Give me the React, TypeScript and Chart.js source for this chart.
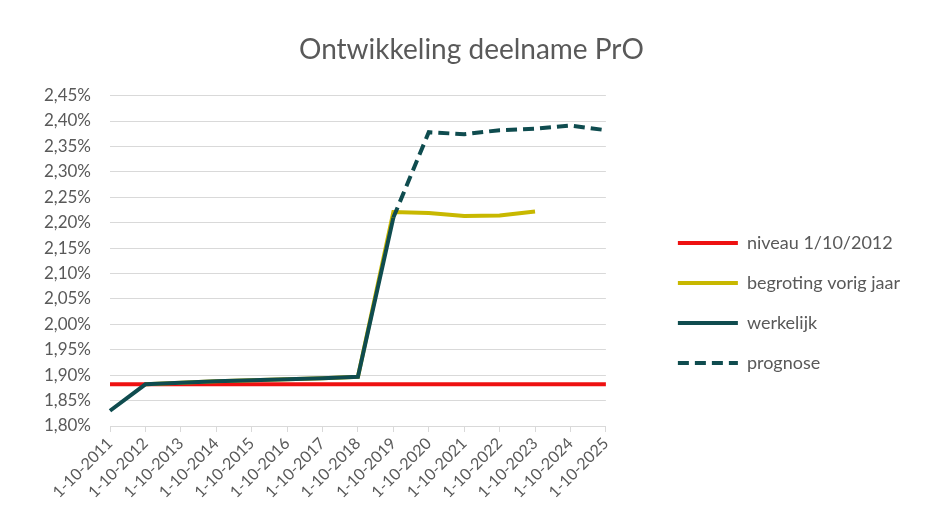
import React, { useEffect, useRef } from "react";
import { Chart, registerables } from "chart.js";

Chart.register(...registerables);

const categories = [
  "1-10-2011", "1-10-2012", "1-10-2013", "1-10-2014", "1-10-2015",
  "1-10-2016", "1-10-2017", "1-10-2018", "1-10-2019", "1-10-2020",
  "1-10-2021", "1-10-2022", "1-10-2023", "1-10-2024", "1-10-2025",
];

const niveau = [1.882, 1.882, 1.882, 1.882, 1.882, 1.882, 1.882, 1.882, 1.882, 1.882, 1.882, 1.882, 1.882, 1.882, 1.882];
const begroting = [null, 1.882, 1.885, 1.888, 1.890, 1.892, 1.894, 1.897, 2.221, 2.219, 2.213, 2.214, 2.222, null, null];
const werkelijk = [1.830, 1.882, 1.885, 1.888, 1.890, 1.892, 1.894, 1.897, 2.210, null, null, null, null, null, null];
const prognose = [null, null, null, null, null, null, null, null, 2.210, 2.378, 2.374, 2.382, 2.385, 2.391, 2.382];

const legendOrder = ["niveau 1/10/2012", "begroting vorig jaar", "werkelijk", "prognose"];

const FONT = "Lato, 'Noto Sans', sans-serif";
const TEXT = "#595959";

export default function App() {
  const ref = useRef<HTMLCanvasElement | null>(null);

  useEffect(() => {
    if (!ref.current) return;
    const baseGen = (Chart as any).defaults.plugins.legend.labels.generateLabels;
    const chart = new Chart(ref.current, {
      type: "line",
      data: {
        labels: categories,
        datasets: [
          { label: "werkelijk", data: werkelijk, borderColor: "#0f4c4f", backgroundColor: "#0f4c4f", borderWidth: 4, pointRadius: 0, tension: 0 },
          { label: "prognose", data: prognose, borderColor: "#0f4c4f", backgroundColor: "#0f4c4f", borderWidth: 4, borderDash: [11, 6], pointRadius: 0, tension: 0 },
          { label: "begroting vorig jaar", data: begroting, borderColor: "#c8b800", backgroundColor: "#c8b800", borderWidth: 4, pointRadius: 0, tension: 0 },
          { label: "niveau 1/10/2012", data: niveau, borderColor: "#ee1111", backgroundColor: "#ee1111", borderWidth: 4, pointRadius: 0, tension: 0 },
        ],
      },
      options: {
        responsive: false,
        animation: false,
        layout: { padding: { left: 33, right: 15, top: 0, bottom: 0 } },
        plugins: {
          tooltip: { enabled: false },
          title: {
            display: true,
            text: "Ontwikkeling deelname PrO",
            color: TEXT,
            font: { family: FONT, size: 28, weight: "normal" },
            padding: { top: 33, bottom: 29 },
          },
          legend: {
            position: "right",
            align: "center",
            maxWidth: 400,
            title: { display: true, text: " ", font: { size: 10 }, padding: { top: 34, bottom: 34 } },
            labels: {
              usePointStyle: true,
              pointStyle: "line",
              pointStyleWidth: 60,
              color: TEXT,
              font: { family: FONT, size: 18 },
              padding: 22,
              generateLabels: (c: any) =>
                baseGen(c).map((item: any) => {
                  const ds = c.data.datasets[item.datasetIndex];
                  return { ...item, lineDash: ds.borderDash || [], lineWidth: ds.borderWidth, strokeStyle: ds.borderColor };
                }),
              sort: (a: any, b: any) => legendOrder.indexOf(a.text) - legendOrder.indexOf(b.text),
            },
          },
        },
        scales: {
          x: {
            offset: false,
            grid: { display: true, drawOnChartArea: false, drawTicks: true, tickLength: 6, color: "#d9d9d9" },
            border: { display: true, color: "#d9d9d9" },
            ticks: { color: TEXT, font: { family: FONT, size: 16 }, minRotation: 45, maxRotation: 45, autoSkip: false, padding: 2 },
            afterFit: (scale: any) => { scale.height = 100; },
          },
          y: {
            min: 1.8,
            max: 2.45,
            grid: { color: "#d9d9d9", drawTicks: false },
            border: { display: false },
            ticks: {
              stepSize: 0.05,
              color: TEXT,
              font: { family: FONT, size: 17 },
              padding: 19,
              callback: (v: any) => Number(v).toFixed(2).replace(".", ",") + "%",
            },
            afterFit: (scale: any) => { scale.width = 77; },
          },
          spacer: {
            type: "linear",
            position: "right",
            display: true,
            grid: { display: false },
            border: { display: false },
            ticks: { display: false },
            afterFit: (scale: any) => { scale.width = 50; },
          },
        },
      } as any,
    });
    return () => chart.destroy();
  }, []);

  return (
    <div style={{ position: "fixed", left: 0, top: 0, width: 925, height: 526, background: "#fff" }}>
      <canvas ref={ref} width={925} height={526} />
    </div>
  );
}
